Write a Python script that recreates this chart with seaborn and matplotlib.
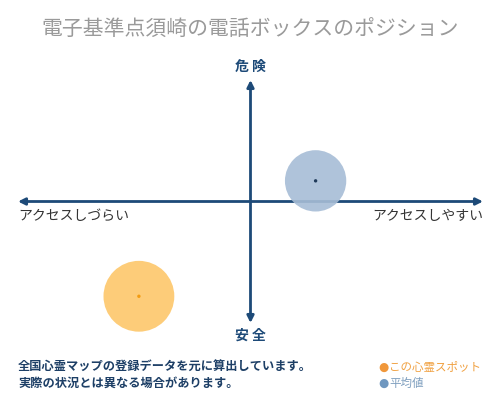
import pandas as pd
import seaborn as sns
import matplotlib.pyplot as plt

sns.set_theme(style="white")
plt.rcParams['font.family'] = ['Noto Sans CJK JP', 'DejaVu Sans']

# position data (x: access, y: danger), range -1..1
labels = ["この心霊スポット", "平均値"]
xs = [-0.48, 0.28]
ys = [-0.78, 0.17]
bubble_sizes = [2600, 1950]
fill_colors = ["#fdc76a", "#a7bdd6"]
dot_colors = ["#f39c12", "#1f3a5a"]

title = "電子基準点須崎の電話ボックスのポジション"
top_label, bottom_label = "危 険", "安 全"
left_label, right_label = "アクセスしづらい", "アクセスしやすい"
notes = ["全国心霊マップの登録データを元に算出しています。",
         "実際の状況とは異なる場合があります。"]

df = pd.DataFrame({"label": labels, "x": xs, "y": ys})

fig = plt.figure(figsize=(5, 4), dpi=100)
ax = fig.add_axes([18/500, 77/400, 465/500, 243/400])
ax.set_xlim(-1, 1)
ax.set_ylim(-1, 1)
ax.axis("off")

navy = "#1d4a78"
ax.annotate("", xy=(-1, 0), xytext=(1, 0),
            arrowprops=dict(arrowstyle="<|-|>", color=navy, lw=2,
                            mutation_scale=10, shrinkA=0, shrinkB=0))
ax.annotate("", xy=(0, 1), xytext=(0, -1),
            arrowprops=dict(arrowstyle="<|-|>", color=navy, lw=2,
                            mutation_scale=10, shrinkA=0, shrinkB=0))

sns.scatterplot(data=df, x="x", y="y", hue="label", palette=fill_colors,
                size="label", sizes=dict(zip(labels, bubble_sizes)),
                legend=False, linewidth=0, alpha=0.9, ax=ax, zorder=3)
sns.scatterplot(data=df, x="x", y="y", hue="label", palette=dot_colors,
                s=6, legend=False, linewidth=0, ax=ax, zorder=4)
for coll in ax.collections:
    coll.set_clip_on(False)

fig.text(0.5, 1 - 30/400, title, ha="center", va="center",
         fontsize=15, color="#9a9a9a")
fig.text(0.5, 1 - 67/400, top_label, ha="center", va="center",
         fontsize=10, color=navy, fontweight="bold")
fig.text(0.5, 1 - 336/400, bottom_label, ha="center", va="center",
         fontsize=10, color=navy, fontweight="bold")
fig.text(18/500, 1 - 216/400, left_label, ha="left", va="center",
         fontsize=10, color="#333333")
fig.text(483/500, 1 - 216/400, right_label, ha="right", va="center",
         fontsize=10, color="#333333")

fig.text(18/500, 1 - 367/400, notes[0], ha="left", va="center",
         fontsize=8.8, color="#1d3f66", fontweight="bold")
fig.text(18/500, 1 - 383/400, notes[1], ha="left", va="center",
         fontsize=8.8, color="#1d3f66", fontweight="bold")

legend_text_colors = ["#f0a040", "#7f9fbf"]
legend_dot_colors = ["#f0973a", "#6f97bf"]
for i, (lab, tc, dc) in enumerate(zip(labels, legend_text_colors, legend_dot_colors)):
    yy = 1 - (367 + 16 * i) / 400
    fig.text(378/500, yy, "●", ha="left", va="center", fontsize=8.5,
             color=dc, family=["DejaVu Sans"])
    fig.text(389/500, yy, lab, ha="left", va="center", fontsize=8.3, color=tc)

fig.savefig("out.png", dpi=100)
